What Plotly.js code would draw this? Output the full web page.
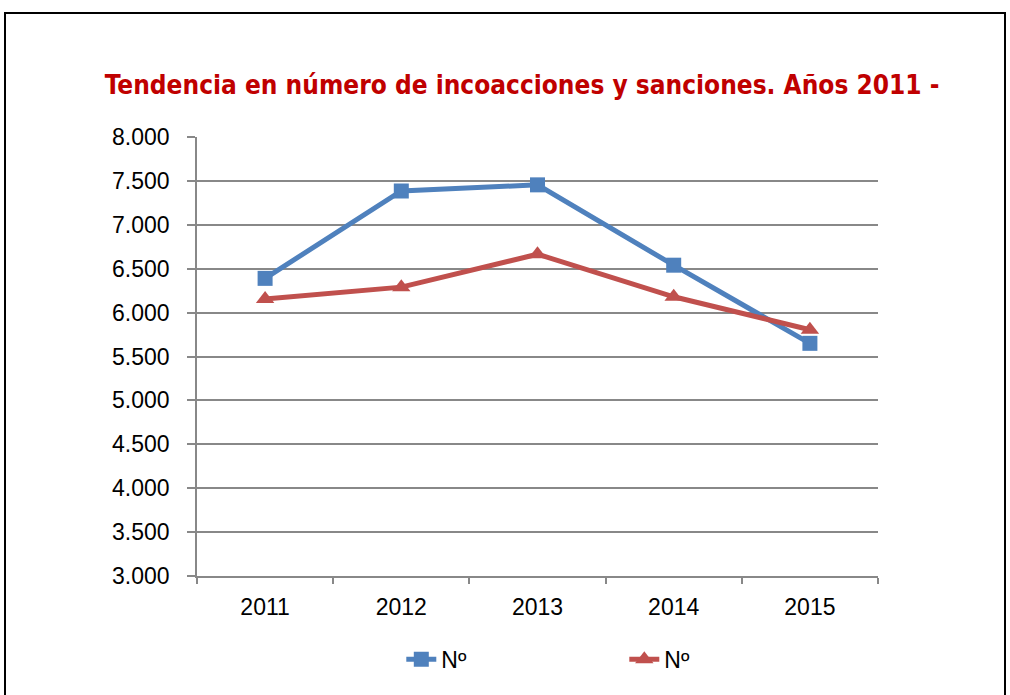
<!DOCTYPE html>
<html>
<head>
<meta charset="utf-8">
<script src="https://cdn.plot.ly/plotly-3.0.1.min.js"></script>
<style>
  body { margin: 0; background: #fff; }
  #frame { position: absolute; left: 4px; top: 12px; width: 1002px; height: 700px; border: 2px solid #000; box-sizing: border-box; }
  #plotArea { position: absolute; left: 0; top: 0; width: 1010px; height: 695px; }
</style>
</head>
<body>
<div id="frame"></div>
<div id="plotArea"></div>
<script>
// years on the x axis
var years = ["2011", "2012", "2013", "2014", "2015"];

// incoacciones (blue) and sanciones (red)
var incoacciones = [6390, 7385, 7455, 6540, 5650];
var sanciones = [6155, 6290, 6665, 6180, 5805];

var yTicks = [3000, 3500, 4000, 4500, 5000, 5500, 6000, 6500, 7000, 7500, 8000];

var trace = [{
    x: years,
    y: incoacciones,
    name: "Nº",
    mode: "lines+markers",
    line: {color: "#4F81BD", width: 5},
    marker: {symbol: "square", size: 15, color: "#4F81BD"},
    type: "scatter"
}, {
    x: years,
    y: sanciones,
    name: "Nº",
    mode: "lines+markers",
    line: {color: "#C0504D", width: 5},
    marker: {symbol: "triangle-up", size: 16, color: "#C0504D"},
    type: "scatter"
}];

var layout = {
    width: 1010,
    height: 695,
    paper_bgcolor: "rgba(0,0,0,0)",
    plot_bgcolor: "rgba(0,0,0,0)",
    margin: {l: 197, r: 132, t: 137, b: 119},
    separators: ",.",
    font: {family: "Liberation Sans, Arial, sans-serif", size: 23, color: "#000"},
    title: {
        text: "<b>Tendencia en número de incoacciones y sanciones. Años 2011 -</b>",
        font: {family: "DejaVu Sans Condensed, Liberation Sans Narrow, sans-serif", size: 26, color: "#C00000"},
        x: 0.517, xanchor: "center",
        y: 0.878, yanchor: "middle"
    },
    xaxis: {
        type: "category",
        range: [-0.5, 4.5],
        tickson: "boundaries",
        ticks: "outside",
        ticklen: 6,
        tickcolor: "#888",
        tickwidth: 1.5,
        ticklabelstandoff: 10,
        showgrid: false,
        showline: true,
        linecolor: "#888",
        linewidth: 1.5,
        zeroline: false,
        tickfont: {size: 23}
    },
    yaxis: {
        range: [3000, 8000],
        tickvals: yTicks,
        tickformat: ",d",
        ticks: "outside",
        ticklen: 8,
        tickcolor: "#888",
        tickwidth: 1.5,
        ticklabelstandoff: 13,
        showgrid: true,
        gridcolor: "#888",
        gridwidth: 1.5,
        showline: true,
        linecolor: "#888",
        linewidth: 1.5,
        zeroline: false,
        tickfont: {size: 23}
    },
    legend: {
        orientation: "h",
        x: 0.30, xanchor: "left",
        y: -0.19, yanchor: "middle",
        font: {size: 23},
        entrywidth: 178,
        tracegroupgap: 0
    },
    showlegend: true
};

Plotly.newPlot("plotArea", trace, layout, {displayModeBar: false});
</script>
</body>
</html>
